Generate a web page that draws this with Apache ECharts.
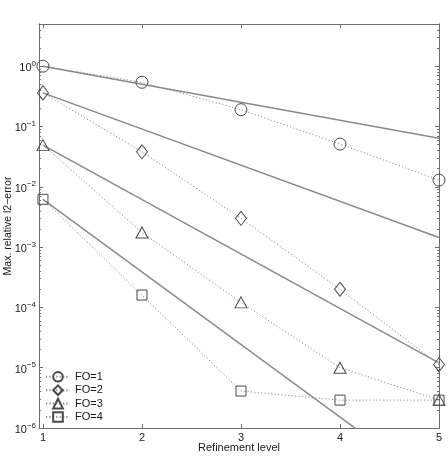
<!DOCTYPE html>
<html><head><meta charset="utf-8">
<script src="https://cdn.jsdelivr.net/npm/echarts@6/dist/echarts.min.js"></script>
<style>html,body{margin:0;padding:0;background:#fff}#c{width:448px;height:460px}</style>
</head><body><div id="c"></div>
<script>
// ---- data ----
const levels = [1, 2, 3, 4, 5];
const seriesNames = ['FO=1', 'FO=2', 'FO=3', 'FO=4'];
const fo1 = [1.0, 0.54, 0.19, 0.051, 0.0129];
const fo2 = [0.36, 0.038, 0.0030, 2.0e-4, 1.12e-5];
const fo3 = [0.049, 1.75e-3, 1.21e-4, 1.0e-5, 2.9e-6];
const fo4 = [6.2e-3, 1.6e-4, 4.1e-6, 2.9e-6, 2.9e-6];
// reference slope lines (end points at level 1 and level 5)
const refLevels = [1, 5];
const ref1 = [1.0, 0.064];
const ref2 = [0.36, 1.44e-3];
const ref3 = [0.049, 1.2e-5];
const ref4 = [6.2e-3, 9.5e-8];
// ticks
const xTicks = [1, 2, 3, 4, 5];
const yMajor = [1e-6, 1e-5, 1e-4, 1e-3, 1e-2, 1e-1, 1];
const yMinorMult = [2, 3, 4, 5, 6, 7, 8, 9];
const yMinor = [];
yMajor.forEach(function (d) { yMinorMult.forEach(function (m) { const v = +(m * d).toPrecision(3); if (v <= 5) yMinor.push(v); }); });

const FONT = '"Liberation Sans", Arial, Helvetica, sans-serif';
const AX = '#6e6e6e';
const MK = '#4a4a4a';
const symbols = [['circle', 12], ['diamond', [11, 14]], ['triangle', [12, 11]], ['rect', 10]];
const dataSets = [fo1, fo2, fo3, fo4];
const refSets = [ref1, ref2, ref3, ref4];

function pairs(xs, ys) { return xs.map(function (x, i) { return [x, ys[i]]; }); }
function supLabel(v) {
  const e = Math.round(Math.log10(v));
  if (Math.abs(v - Math.pow(10, e)) / v > 1e-6) return '';
  return '{b|10}{s|' + (e < 0 ? '\u2212' + (-e) : String(e)) + '}';
}

const series = [];
dataSets.forEach(function (ds, i) {
  series.push({
    name: seriesNames[i], type: 'line', xAxisIndex: 0, yAxisIndex: 0,
    data: pairs(levels, ds),
    symbol: symbols[i][0], symbolSize: symbols[i][1],
    lineStyle: { type: [1.2, 2.2], width: 1, color: '#8c8c8c' },
    itemStyle: { color: 'rgba(255,255,255,0)', borderColor: MK, borderWidth: 1 },
    emphasis: { disabled: true }, z: 3
  });
});
refSets.forEach(function (rs, i) {
  series.push({
    name: 'ref' + (i + 1), type: 'line', xAxisIndex: 0, yAxisIndex: 0,
    data: pairs(refLevels, rs), symbol: 'none', clip: true,
    lineStyle: { type: 'solid', width: 1.5, color: '#8a8a8a' },
    emphasis: { disabled: true }, z: 2
  });
});

function yAx(pos, labels, vals, len, extra) {
  return Object.assign({
    type: 'log', logBase: 10, min: 1e-6, max: 5, position: pos, splitNumber: 7,
    axisLine: { show: true, lineStyle: { color: AX, width: 1 } },
    axisTick: { show: true, inside: true, length: len, customValues: vals, lineStyle: { color: AX } },
    minorTick: { show: false },
    axisLabel: labels ? {
      show: true, customValues: vals, margin: 3, formatter: supLabel,
      rich: { b: { fontSize: 11, fontFamily: FONT, color: '#1a1a1a', padding: [4, 0, 0, 0] },
              s: { fontSize: 8, fontFamily: FONT, color: '#1a1a1a', padding: [0, 0, 5, 0] } }
    } : { show: false },
    splitLine: { show: false }
  }, extra || {});
}
function xAx(pos, labels, extra) {
  return Object.assign({
    type: 'value', min: 0.96, max: 5, position: pos,
    axisLine: { show: true, onZero: false, lineStyle: { color: AX, width: 1 } },
    axisTick: { show: true, inside: true, length: 4, customValues: xTicks, lineStyle: { color: AX } },
    axisLabel: labels ? { show: true, customValues: xTicks, margin: 4, fontSize: 11, fontFamily: FONT, color: '#1a1a1a' } : { show: false },
    splitLine: { show: false }
  }, extra || {});
}

const chart = echarts.init(document.getElementById('c'), null, { renderer: 'canvas' });
chart.setOption({
  animation: false,
  backgroundColor: '#ffffff',
  grid: { left: 39, right: 9, top: 24, bottom: 32, containLabel: false, outerBoundsMode: 'none' },
  xAxis: [
    xAx('bottom', true, { name: 'Refinement level', nameLocation: 'middle', nameGap: 14, nameMoveOverlap: false,
      nameTextStyle: { fontSize: 11, fontFamily: FONT, color: '#1a1a1a' } }),
    xAx('top', false)
  ],
  yAxis: [
    yAx('left', true, yMajor, 4, { name: 'Max. relative l2\u2212error', nameLocation: 'middle', nameGap: 25, nameMoveOverlap: false,
      nameTextStyle: { fontSize: 10.5, fontFamily: FONT, color: '#1a1a1a' } }),
    yAx('left', false, yMinor, 2),
    yAx('right', false, yMajor, 4),
    yAx('right', false, yMinor, 2)
  ],
  legend: {
    data: seriesNames, orient: 'vertical', left: 45, top: 371, padding: 0,
    itemWidth: 24, itemHeight: 12, itemGap: 1.8,
    textStyle: { fontSize: 11, fontFamily: FONT, color: '#1a1a1a' },
    selectedMode: false
  },
  series: series
});
</script></body></html>
